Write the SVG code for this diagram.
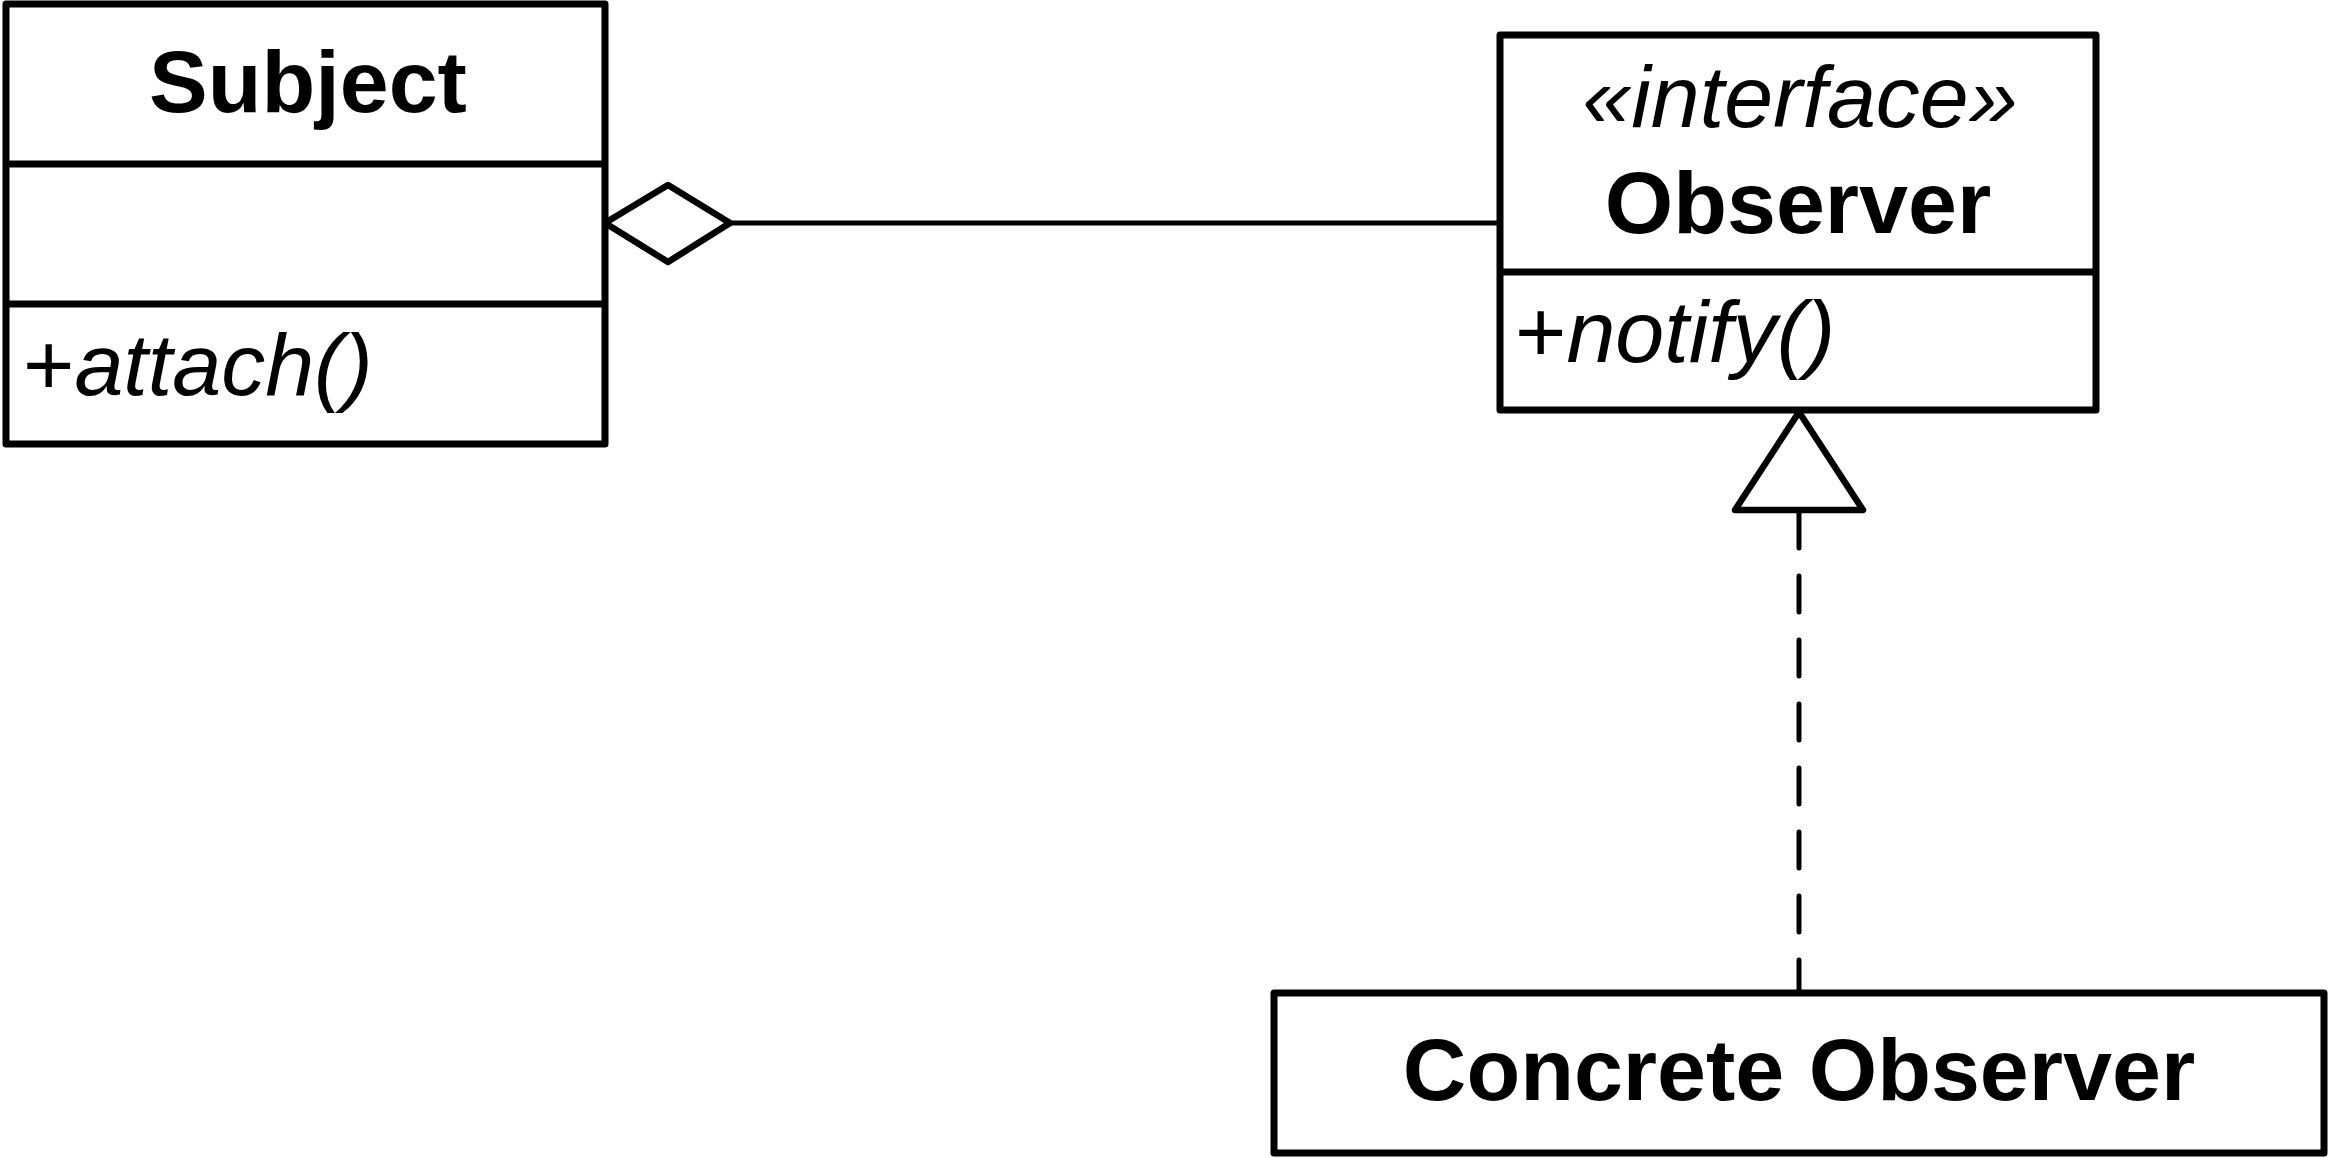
<svg xmlns="http://www.w3.org/2000/svg" width="2333" height="1158" viewBox="0 0 2333 1158">
<style>
.box{fill:#fff;stroke:#000;stroke-width:7;stroke-linejoin:round}
.div{stroke:#000;stroke-width:7}
.t{font-family:"Liberation Sans",Arial,sans-serif;font-size:88px;fill:#000}
.b{font-weight:bold;text-anchor:middle}
.i{font-style:italic}
.line{fill:none;stroke:#000;stroke-width:5}
.head{fill:#fff;stroke:#000;stroke-width:6.5;stroke-linejoin:round}
</style>
<rect width="2333" height="1158" fill="#fff"/>
<g id="connectors">
<line class="line" x1="730" y1="223" x2="1500" y2="223"/>
<polygon class="head" points="605,223 668,185 730,223 668,262"/>
<line class="line" x1="1799" y1="512" x2="1799" y2="991" stroke-dasharray="36 28" stroke-linecap="round"/>
<polygon class="head" points="1799,412 1863,510 1735,510"/>
</g>
<g id="subject">
<rect class="box" x="6" y="4" width="599" height="440"/>
<line class="div" x1="6" y1="164" x2="605" y2="164"/>
<line class="div" x1="6" y1="304" x2="605" y2="304"/>
<text class="t b" x="308" y="112">Subject</text>
<text class="t" x="23" y="395">+<tspan class="i">attach()</tspan></text>
</g>
<g id="observer">
<rect class="box" x="1500" y="35" width="596" height="375"/>
<line class="div" x1="1500" y1="272" x2="2096" y2="272"/>
<text class="t i" x="1800" y="127" text-anchor="middle" font-size="87">«interface»</text>
<text class="t b" x="1798" y="233">Observer</text>
<text class="t" x="1515" y="362">+<tspan class="i">notify()</tspan></text>
</g>
<g id="concrete-observer">
<rect class="box" x="1274" y="993" width="1050" height="160"/>
<text class="t b" x="1799" y="1100">Concrete Observer</text>
</g>
</svg>
